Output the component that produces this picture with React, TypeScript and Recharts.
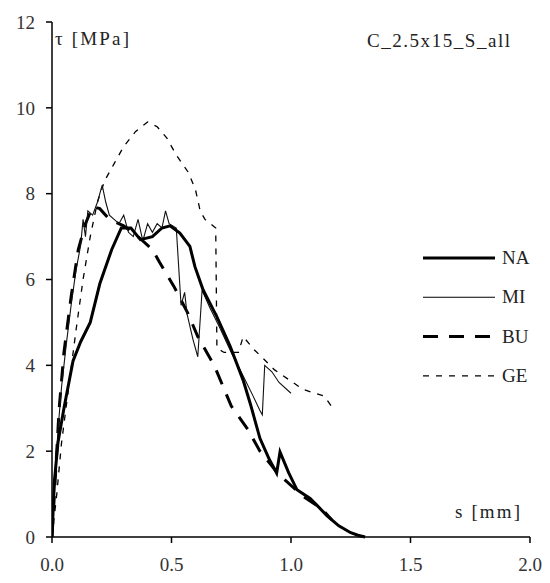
import React from "react";
import { LineChart, Line, XAxis, YAxis } from "recharts";

// slip s [mm] and bond stress tau [MPa] for each series
const naS = [0, 0.01, 0.025, 0.05, 0.088, 0.12, 0.16, 0.2, 0.25, 0.29, 0.33, 0.37, 0.42, 0.46, 0.494, 0.535, 0.577, 0.598, 0.632, 0.69, 0.745, 0.8, 0.83, 0.87, 0.91, 0.94, 0.954, 0.99, 1.025, 1.08, 1.11, 1.15, 1.2, 1.25, 1.28, 1.31];
const naT = [0, 1.3, 2.2, 3.0, 4.1, 4.55, 5.0, 5.9, 6.7, 7.2, 7.2, 6.93, 7.0, 7.2, 7.25, 7.08, 6.77, 6.3, 5.76, 5.13, 4.45, 3.65, 3.1, 2.3, 1.8, 1.49, 1.98, 1.5, 1.1, 0.9, 0.73, 0.5, 0.26, 0.1, 0.04, 0];

const miS = [0, 0.01, 0.025, 0.04, 0.06, 0.08, 0.1, 0.12, 0.13, 0.14, 0.15, 0.17, 0.19, 0.21, 0.225, 0.24, 0.26, 0.28, 0.3, 0.32, 0.34, 0.36, 0.38, 0.4, 0.42, 0.44, 0.46, 0.475, 0.49, 0.52, 0.54, 0.555, 0.565, 0.59, 0.61, 0.628, 0.66, 0.7, 0.75, 0.8, 0.84, 0.87, 0.88, 0.89, 0.92, 0.95, 1.0];
const miT = [0, 1.0, 2.5, 3.5, 4.5, 5.4, 6.2, 6.8, 7.4, 7.0, 7.6, 7.5, 7.8, 8.2, 7.8, 7.5, 7.4, 7.3, 7.5, 7.1, 7.0, 7.4, 6.9, 7.3, 7.1, 7.3, 7.2, 7.6, 7.3, 7.2, 5.4, 5.7, 5.2, 4.6, 4.2, 5.75, 5.35, 4.9, 4.3, 3.75, 3.3, 2.95, 2.85, 4.0, 3.85, 3.6, 3.35];

const buS = [0, 0.015, 0.03, 0.05, 0.08, 0.11, 0.14, 0.17, 0.2, 0.24, 0.3, 0.36, 0.42, 0.45, 0.51, 0.567, 0.61, 0.68, 0.72, 0.75, 0.82, 0.87, 0.95, 1.05, 1.13, 1.17];
const buT = [0, 1.5, 3.0, 4.3, 5.6, 6.7, 7.3, 7.7, 7.65, 7.4, 7.25, 7.0, 6.7, 6.4, 5.84, 5.23, 4.67, 3.98, 3.45, 3.05, 2.5, 2.0, 1.45, 0.95, 0.65, 0.4];

const geS = [0, 0.02, 0.04, 0.07, 0.1, 0.13, 0.16, 0.19, 0.22, 0.26, 0.3, 0.35, 0.4, 0.44, 0.48, 0.52, 0.57, 0.6, 0.62, 0.64, 0.685, 0.69, 0.72, 0.78, 0.8, 0.845, 0.887, 0.93, 0.99, 1.05, 1.14, 1.18];
const geT = [0, 1.0, 2.2, 3.5, 4.8, 6.0, 7.0, 7.8, 8.3, 8.7, 9.1, 9.45, 9.67, 9.56, 9.3, 8.9, 8.5, 8.1, 7.6, 7.4, 7.2, 4.4, 4.3, 4.3, 4.67, 4.37, 4.14, 3.9, 3.67, 3.44, 3.28, 2.96];

const xTicks = [0, 0.5, 1, 1.5, 2];
const yTicks = [0, 2, 4, 6, 8, 10, 12];

const seriesNames = ["NA", "MI", "BU", "GE"];
const yTitle = "τ [MPa]";
const xTitle = "s [mm]";
const chartTitle = "C_2.5x15_S_all";

const toPts = (s: number[], t: number[]) => s.map((v, i) => ({ s: v, t: t[i] }));
const naData = toPts(naS, naT);
const miData = toPts(miS, miT);
const buData = toPts(buS, buT);
const geData = toPts(geS, geT);

const FONT = "Liberation Serif";
const styles = [
  { w: 3, dash: undefined as string | undefined },
  { w: 1.1, dash: undefined as string | undefined },
  { w: 3, dash: "15 11" },
  { w: 1.3, dash: "6 7" },
];

const Annotations = () => (
  <g fontFamily={FONT} fill="#222" fontSize={19}>
    <text x={47} y={37} textLength={74} lengthAdjust="spacing">{yTitle}</text>
    <text x={359} y={39} textLength={143} lengthAdjust="spacing">{chartTitle}</text>
    <text x={447} y={510} textLength={65} lengthAdjust="spacing">{xTitle}</text>
    {seriesNames.map((n, i) => {
      const y = 250 + i * 39.3;
      return (
        <g key={n}>
          <line x1={415} x2={487} y1={y} y2={y} stroke="#000" strokeWidth={styles[i].w} strokeDasharray={styles[i].dash} />
          <text x={494} y={y + 6}>{n}</text>
        </g>
      );
    })}
  </g>
);

export default function App() {
  const tickStyle = { fontFamily: FONT, fontSize: 19, fill: "#333" };
  return (
    <LineChart width={542} height={575} margin={{ top: 14, right: 20, left: 0, bottom: 0 }}>
      <XAxis
        type="number"
        dataKey="s"
        domain={[0, 2]}
        ticks={xTicks}
        tickFormatter={(v: number) => v.toFixed(1)}
        height={46}
        tickSize={6}
        tickMargin={15}
        tick={tickStyle}
        axisLine={{ stroke: "#000", strokeWidth: 1.5 }}
        tickLine={{ stroke: "#000", strokeWidth: 1.5 }}
        allowDataOverflow
      />
      <YAxis
        type="number"
        domain={[0, 12]}
        ticks={yTicks}
        width={44}
        tickSize={6}
        tickMargin={11}
        tick={tickStyle}
        axisLine={{ stroke: "#000", strokeWidth: 1.5 }}
        tickLine={{ stroke: "#000", strokeWidth: 1.5 }}
        label={{ content: () => <Annotations /> }}
      />
      <Line data={geData} dataKey="t" name="GE" type="linear" stroke="#000" strokeWidth={styles[3].w} strokeDasharray={styles[3].dash} dot={false} isAnimationActive={false} />
      <Line data={buData} dataKey="t" name="BU" type="linear" stroke="#000" strokeWidth={styles[2].w} strokeDasharray={styles[2].dash} dot={false} isAnimationActive={false} />
      <Line data={miData} dataKey="t" name="MI" type="linear" stroke="#111" strokeWidth={styles[1].w} dot={false} isAnimationActive={false} />
      <Line data={naData} dataKey="t" name="NA" type="linear" stroke="#000" strokeWidth={styles[0].w} dot={false} isAnimationActive={false} />
    </LineChart>
  );
}
